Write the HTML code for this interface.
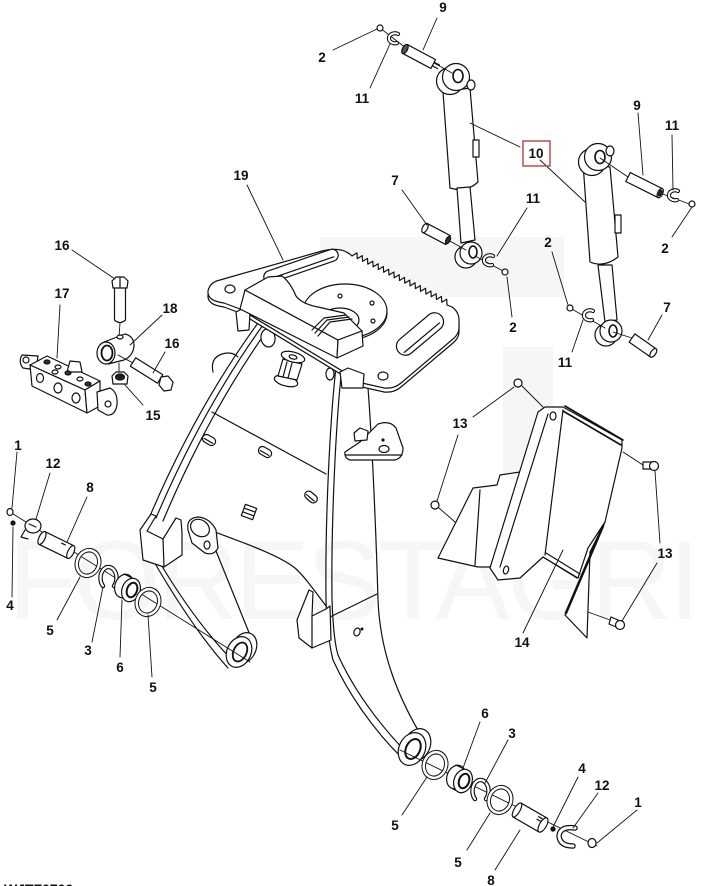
<!DOCTYPE html>
<html><head><meta charset="utf-8"><style>
html,body{margin:0;padding:0;background:#fff;}
svg{display:block;}
text{font-family:"Liberation Sans",Arial,sans-serif;}
.lb text{font-weight:bold;font-size:13.5px;fill:#111;text-anchor:middle;}
</style></head><body>
<svg width="712" height="886" viewBox="0 0 712 886" xmlns="http://www.w3.org/2000/svg" xmlns:xlink="http://www.w3.org/1999/xlink">
<defs>
<path id="plate" d="M 220,280 L 322,251 Q 342,246 352,256 L 356.9,252.9 357.3,258.7 362.2,255.6 362.6,261.4 367.5,258.4 367.8,264.2 372.8,261.1 373.1,266.9 378.1,263.8 378.4,269.6 383.3,266.5 383.7,272.3 388.6,269.2 389,275 393.9,272 394.2,277.8 399.2,274.7 399.5,280.5 404.5,277.4 404.8,283.2 409.7,280.1 410.1,285.9 415,282.8 415.4,288.6 420.3,285.6 420.6,291.4 425.6,288.3 425.9,294.1 430.9,291 431.2,296.8 436.1,293.7 436.5,299.5 441.4,296.4 441.8,302.2 446.7,299.2 447,305 L 452,307 Q 459,312 459,320 L 459,328 Q 459,334 453,339 L 401,383 Q 394,389 384,388 L 362,383 L 240,309 L 224,303 Q 207,301 208,291 Q 210,282 220,280 Z"/>
<path id="clip11" d="M 5,-4 A 6 5 0 1 0 4,5"/>
<path id="snap" d="M -5,8 A 8 11 0 1 1 6,8"/>
<ellipse id="washer" cx="0" cy="0" rx="11" ry="13" transform="rotate(20)"/>
</defs>

<g fill="#f6f6f6">
<rect x="320" y="237" width="244" height="60"/>
<rect x="503" y="347" width="50" height="158"/>
</g>
<text x="8" y="619" font-size="112" fill="#f6f6f6" textLength="692" lengthAdjust="spacing">FORESTAGRI</text>

<g stroke="#111" stroke-width="1.2" fill="none" stroke-linejoin="round" stroke-linecap="round">
<path d="M 368,388 C 372,440 376,530 378,600 C 380,650 396,695 425,742"/>
<path d="M 336,367 C 330,420 325,520 326,600 C 327,630 330,648 333,660"/>
<path d="M 342,367 C 336,420 331,520 332,600 C 333,628 335,645 338,655"/>
<path d="M 333,660 C 348,693 372,728 401,757"/>
<path d="M 338,655 C 352,686 374,718 404,750"/>
<path d="M 330,617 L 377,594"/>
<path d="M 258,323 Q 196,408 150,516"/>
<path d="M 263,325 Q 202,410 156,518"/>
<path d="M 268,329 Q 208,414 163,521"/>
<path d="M 212,412 L 326,474"/>
<path d="M 212,531 C 250,545 280,556 295,568 C 305,577 314,590 326,606"/>
<path d="M 153,560 C 175,598 200,637 228,668"/>
<path d="M 160,563 C 181,598 205,632 232,660"/>
<path d="M 214,546 L 252,640"/>
<path d="M 213,372 Q 210,358 222,354 Q 232,351 238,357"/>

<ellipse cx="244" cy="648" rx="12" ry="16" transform="rotate(25 244 648)" fill="#fff"/>
<ellipse cx="239" cy="652" rx="12" ry="16" transform="rotate(25 239 652)" fill="#fff"/>
<ellipse cx="240" cy="652" rx="6.5" ry="10" transform="rotate(25 240 652)" fill="#fff" stroke-width="1.8"/>

<path d="M 188,530 Q 186,518 198,517 Q 210,518 216,530 L 218,548 Q 214,556 205,553 L 192,543 Z" fill="#fff"/>
<ellipse cx="200" cy="528" rx="10" ry="8" transform="rotate(35 200 528)" fill="#fff"/>
<ellipse cx="207" cy="545" rx="3" ry="4" fill="#fff"/>

<path d="M 140,530 L 151,514 L 156,516 L 147,531 L 163,539 L 176,518 L 181,520 L 182,533 L 182,555 L 164,567 L 143,560 Z" fill="#fff"/>
<path d="M 163,539 L 164,567"/>
<path d="M 297,620 L 309,590 L 313,592 L 312,616 L 326,609 L 330,606 L 331,640 L 312,648 L 299,638 Z" fill="#fff"/>
<path d="M 312,616 L 312,648"/>
<path d="M 345,452 L 360,442 L 378,424 Q 390,420 396,428 L 403,448 Q 403,458 395,460 L 350,460 Q 344,458 345,452 Z" fill="#fff"/>
<path d="M 346,455 L 402,455"/>
<ellipse cx="384" cy="449" rx="5" ry="3.5" fill="#fff"/>
<circle cx="383" cy="440" r="1" fill="#111"/>
<path d="M 354,433 L 360,428 L 368,431 L 367,440 L 355,441 Z" fill="#fff"/>

<ellipse cx="417" cy="745" rx="13" ry="17" transform="rotate(25 417 745)" fill="#fff"/>
<ellipse cx="412" cy="749" rx="13" ry="17" transform="rotate(25 412 749)" fill="#fff"/>
<ellipse cx="413" cy="749" rx="7" ry="10.5" transform="rotate(25 413 749)" fill="#fff" stroke-width="2"/>

<ellipse cx="268" cy="338" rx="7" ry="9" transform="rotate(-10 268 338)" fill="#fff"/>
<ellipse cx="330" cy="374" rx="4" ry="6" fill="#fff"/>
<g transform="translate(209,440) rotate(30)"><rect x="-7" y="-4" width="14" height="8" rx="4" fill="#fff"/><path d="M -5,1 L 5,1"/></g>
<g transform="translate(265,452) rotate(30)"><rect x="-7" y="-4" width="14" height="8" rx="4" fill="#fff"/><path d="M -5,1 L 5,1"/></g>
<g transform="translate(311,497) rotate(40)"><rect x="-7" y="-4" width="14" height="8" rx="4" fill="#fff"/><path d="M -5,1 L 5,1"/></g>
<g transform="translate(249,512) rotate(20)"><rect x="-6" y="-6" width="12" height="12" fill="#fff"/><path d="M -5,-2 L 5,-2 M -5,2 L 5,2"/></g>
<ellipse cx="357" cy="632" rx="3" ry="4" transform="rotate(20 357 632)"/>
<circle cx="362" cy="629" r="0.9" fill="#111"/>

<ellipse cx="286" cy="381" rx="12" ry="5" transform="rotate(15 286 381)" fill="#fff"/>
<path d="M 283,359 L 302,364 L 297,380 L 278,376 Z" fill="#fff"/>
<path d="M 287,362 L 283,377 M 292,363 L 288,378"/>
<ellipse cx="293" cy="357" rx="12" ry="5" transform="rotate(15 293 357)" fill="#fff"/>
<ellipse cx="293" cy="357" rx="4" ry="2" transform="rotate(15 293 357)"/>

<use xlink:href="#plate" href="#plate" transform="translate(0,4)" fill="#fff"/>
<use xlink:href="#plate" href="#plate" fill="#fff"/>
<g transform="translate(301,266) rotate(-19)"><rect x="-39" y="-6" width="78" height="12" rx="6" fill="#fff"/><path d="M -35,2 L 34,2"/></g>
<g transform="translate(420,334) rotate(-40)"><rect x="-28" y="-9" width="56" height="18" rx="9" fill="#fff"/><path d="M -24,4 L 22,4"/></g>
<ellipse cx="230" cy="289" rx="5" ry="4" fill="#fff"/>
<ellipse cx="383" cy="376" rx="5" ry="4" fill="#fff"/>
<ellipse cx="345" cy="313" rx="42" ry="27" fill="#fff"/>
<ellipse cx="345" cy="311" rx="42" ry="27" fill="#fff"/>
<ellipse cx="340" cy="320" rx="19" ry="12" fill="#fff"/>
<circle cx="340" cy="296" r="2"/><circle cx="372" cy="303" r="2"/><circle cx="373" cy="321" r="2"/><circle cx="360" cy="332" r="2"/>
<path d="M 236,312 L 242,309 L 250,313 L 249,330 L 238,331 Z" fill="#fff"/>
<path d="M 340,372 L 348,368 L 364,374 L 363,388 L 342,388 Z" fill="#fff"/>
<path d="M 245,290 L 338,340 L 337,358 L 240,309 Z" fill="#fff"/>
<path d="M 245,290 L 268,277 L 282,276 Q 290,282 296,296 Q 302,304 318,307 L 344,313 L 362,331 L 338,340 Z" fill="#fff"/>
<path d="M 338,340 L 362,331 L 363,346 L 337,358 Z" fill="#fff"/>
<path d="M 312,330 L 324,318 L 346,315 M 315,333 L 327,320 L 349,317 M 318,336 L 330,322 L 352,319"/>

<path d="M 443,92 L 470,88 L 478,182 Q 466,193 450,188 Z" fill="#fff"/>
<rect x="473" y="140" width="6" height="17" fill="#fff"/>
<path d="M 457,188 L 470,187 L 475,240 L 461,243 Z" fill="#fff"/>
<circle cx="450" cy="81" r="13.5" fill="#fff"/>
<circle cx="456" cy="77" r="13.5" fill="#fff"/>
<ellipse cx="458" cy="76" rx="5" ry="6.5" fill="#fff" stroke-width="1.6"/>
<ellipse cx="471" cy="85" rx="4" ry="5" fill="#fff"/>
<circle cx="466" cy="257" r="11" fill="#fff"/>
<circle cx="471" cy="253" r="11" fill="#fff"/>
<ellipse cx="473" cy="252" rx="4" ry="6" fill="#fff" stroke-width="1.6"/>
<path d="M 583,163 L 610,167 L 618,257 Q 604,268 590,262 Z" fill="#fff"/>
<rect x="615" y="215" width="6" height="18" fill="#fff"/>
<path d="M 598,265 L 612,265 L 617,320 L 605,322 Z" fill="#fff"/>
<circle cx="592" cy="162" r="13.5" fill="#fff"/>
<circle cx="598" cy="157" r="13.5" fill="#fff"/>
<ellipse cx="600" cy="157" rx="5" ry="6.5" fill="#fff" stroke-width="1.6"/>
<ellipse cx="610" cy="151" rx="4" ry="5" fill="#fff"/>
<circle cx="606" cy="335" r="11" fill="#fff"/>
<circle cx="611" cy="331" r="11" fill="#fff"/>
<ellipse cx="613" cy="331" rx="4" ry="6" fill="#fff" stroke-width="1.6"/>

<path stroke-width="0.9" d="M 380,28 L 406,48 M 434,63 L 452,73 M 448,240 L 466,250 M 475,256 L 505,272 M 600,158 L 628,177 M 660,193 L 692,205 M 570,308 L 605,328 M 613,332 L 632,338"/>
<g transform="translate(405,49) rotate(28)"><rect x="0" y="-5" width="32" height="10" fill="#fff"/><ellipse cx="0" cy="0" rx="2.5" ry="5" fill="#555"/><path d="M 32,-2 L 38,-2 M 32,2 L 38,2"/></g>
<g transform="translate(425,228) rotate(27.6)"><rect x="0" y="-5" width="26" height="10" fill="#fff"/><ellipse cx="0" cy="0" rx="2.5" ry="5" fill="#fff"/><ellipse cx="26" cy="0" rx="2" ry="4" fill="#333"/></g>
<g transform="translate(628,177) rotate(26.6)"><rect x="0" y="-5" width="36" height="10" fill="#fff"/><ellipse cx="36" cy="0" rx="2.5" ry="5" fill="#fff"/><ellipse cx="36" cy="0" rx="1.2" ry="3" fill="#333"/></g>
<g transform="translate(632,338) rotate(35)"><rect x="0" y="-5" width="26" height="10" fill="#fff"/><ellipse cx="26" cy="0" rx="2.5" ry="5" fill="#fff"/></g>

<g transform="translate(393,38)"><use href="#clip11" xlink:href="#clip11" stroke-width="4.2"/><use href="#clip11" xlink:href="#clip11" stroke-width="2" stroke="#fff"/></g>
<g transform="translate(488,260)"><use href="#clip11" xlink:href="#clip11" stroke-width="4.2"/><use href="#clip11" xlink:href="#clip11" stroke-width="2" stroke="#fff"/></g>
<g transform="translate(673,195)"><use href="#clip11" xlink:href="#clip11" stroke-width="4.2"/><use href="#clip11" xlink:href="#clip11" stroke-width="2" stroke="#fff"/></g>
<g transform="translate(588,315)"><use href="#clip11" xlink:href="#clip11" stroke-width="4.2"/><use href="#clip11" xlink:href="#clip11" stroke-width="2" stroke="#fff"/></g>
<g fill="#fff"><circle cx="380" cy="28" r="3"/><circle cx="505" cy="272" r="3"/><circle cx="692" cy="204" r="3"/><circle cx="570" cy="308" r="3"/></g>

<path d="M 438,558 L 473,488 L 497,485 L 500,475 L 520,472 L 530,490 L 490,567 L 478,567 Z" fill="#fff"/>
<path d="M 480,490 L 475,565"/>
<path d="M 538,412 L 545,407 L 563,407 L 622,440 L 622,448 L 605,522 L 588,548 L 578,578 L 543,557 L 520,578 L 498,580 L 490,568 Z" fill="#fff"/>
<path d="M 563,410 L 545,555"/>
<path d="M 548,414 L 500,567"/>
<path d="M 565,406 L 623,440 M 563,411 L 621,445" stroke-width="1.6"/>
<path d="M 543,557 L 577,578 M 546,553 L 580,574"/>
<path d="M 605,522 L 565,615 L 587,638 L 590,552 Z" fill="#fff"/>
<path d="M 603,526 L 566,613" stroke-width="2.5"/>
<ellipse cx="553" cy="416" rx="3" ry="4" fill="#fff"/>
<ellipse cx="506" cy="570" rx="2.5" ry="4" transform="rotate(15 506 570)"/>
<circle cx="518" cy="383" r="4" fill="#fff"/>
<circle cx="435" cy="505" r="4" fill="#fff"/>
<path d="M 643,462 L 651,462 L 651,469 L 643,469 Z" fill="#fff"/>
<circle cx="654" cy="466" r="4.5" fill="#fff"/>
<path d="M 611,617 L 618,620 L 616,627 L 609,624 Z" fill="#fff"/>
<circle cx="620" cy="625" r="4.5" fill="#fff"/>

<path d="M 22,355 Q 18,362 23,368 L 36,370 L 38,356 Z" fill="#fff"/>
<circle cx="26" cy="360" r="3" fill="#fff"/>
<path d="M 30,365 L 47,356 L 100,381 L 85,390 Z" fill="#fff"/>
<path d="M 30,365 L 85,390 L 87,413 L 32,386 Z" fill="#fff"/>
<path d="M 85,390 L 100,381 L 100,406 L 87,413 Z" fill="#fff"/>
<path d="M 67,372 L 70,361 L 80,362 L 82,372 Z" fill="#fff"/>
<path d="M 97,392 L 110,388 Q 118,392 117,405 Q 115,416 107,415 L 98,410 Z" fill="#fff"/>
<circle cx="108" cy="404" r="3" fill="#fff"/>
<ellipse cx="40" cy="378" rx="3.5" ry="4.5" fill="#fff"/>
<ellipse cx="58" cy="388" rx="4" ry="5" fill="#fff"/>
<ellipse cx="76" cy="398" rx="4" ry="5" fill="#fff"/>
<ellipse cx="47" cy="362" rx="3" ry="2" fill="#333"/>
<ellipse cx="58" cy="367" rx="3" ry="2"/>
<ellipse cx="68" cy="373" rx="3" ry="2" fill="#333"/>
<ellipse cx="80" cy="379" rx="3" ry="2"/>
<ellipse cx="55" cy="372" rx="3" ry="2"/>
<ellipse cx="88" cy="384" rx="3" ry="2" fill="#333"/>
<path d="M 114.5,288 L 114.5,320 Q 120,325 125.5,320 L 125.5,288" fill="#fff"/>
<path d="M 112,281 L 116,277 L 124,277 L 128,281 L 127,288 L 113,288 Z" fill="#fff"/>
<path d="M 120,277 L 120,288"/>
<path d="M 120,323 L 119,337" stroke-width="0.9"/>
<path d="M 104,342 L 125,334 Q 134,336 134,346 Q 133,356 124,360 L 108,364" fill="#fff"/>
<ellipse cx="106" cy="353" rx="9" ry="11" fill="#fff"/>
<ellipse cx="107" cy="353" rx="5.5" ry="7.5" fill="#fff" stroke-width="1.8"/>
<ellipse cx="120" cy="337" rx="3" ry="2" fill="#fff"/>
<path d="M 118,355 L 133,363 M 119,363 L 119,373" stroke-width="0.9"/>
<g transform="translate(133,362) rotate(32)"><rect x="0" y="-5" width="32" height="10" fill="#fff"/></g>
<path d="M 161,377 L 168,376 L 173,382 L 171,390 L 164,391 L 159,385 Z" fill="#fff"/>
<path d="M 112,376 L 116,372 L 124,372 L 128,376 L 127,384 L 113,384 Z" fill="#fff"/>
<ellipse cx="120" cy="377" rx="4.5" ry="3" fill="#222"/>

<path d="M 10,512 L 250,662" stroke-width="0.9"/>
<ellipse cx="10" cy="512" rx="3" ry="3.5" fill="#fff"/>
<circle cx="13" cy="523" r="2" fill="#111"/>
<ellipse cx="33" cy="526" rx="8" ry="7" fill="#fff"/>
<path d="M 29,524 L 36,527 M 25,530 L 21,537 L 28,539"/>
<g transform="translate(42,538) rotate(26)"><rect x="0" y="-7" width="32" height="14" fill="#fff"/><ellipse cx="0" cy="0" rx="3" ry="7" fill="#fff"/><ellipse cx="32" cy="0" rx="3" ry="7" fill="#fff"/><path d="M 20,-4 L 24,-4"/></g>
<g transform="translate(88,563)"><use href="#washer" xlink:href="#washer" stroke-width="4.5"/><use href="#washer" xlink:href="#washer" stroke-width="2.5" stroke="#fff"/></g>
<g transform="translate(108,578)"><use href="#snap" xlink:href="#snap" stroke-width="4.5"/><use href="#snap" xlink:href="#snap" stroke-width="2.2" stroke="#fff"/></g>
<ellipse cx="124" cy="586" rx="9" ry="12" transform="rotate(20 124 586)" fill="#fff"/>
<path d="M 124,574 L 132,578 M 122,598 L 130,601"/>
<ellipse cx="131" cy="590" rx="9" ry="12" transform="rotate(20 131 590)" fill="#fff"/>
<ellipse cx="132" cy="590" rx="5" ry="7.5" transform="rotate(20 132 590)" fill="#fff" stroke-width="2"/>
<g transform="translate(148,602)"><use href="#washer" xlink:href="#washer" stroke-width="4.5"/><use href="#washer" xlink:href="#washer" stroke-width="2.5" stroke="#fff"/></g>

<path d="M 400,750 L 597,846" stroke-width="0.9"/>
<g transform="translate(435,765)"><use href="#washer" xlink:href="#washer" stroke-width="4.5"/><use href="#washer" xlink:href="#washer" stroke-width="2.5" stroke="#fff"/></g>
<ellipse cx="456" cy="777" rx="9" ry="12" transform="rotate(20 456 777)" fill="#fff"/>
<path d="M 456,765 L 464,769 M 453,789 L 461,793"/>
<ellipse cx="463" cy="781" rx="9" ry="12" transform="rotate(20 463 781)" fill="#fff"/>
<ellipse cx="464" cy="781" rx="5" ry="7.5" transform="rotate(20 464 781)" fill="#fff" stroke-width="2"/>
<g transform="translate(480,791)"><use href="#snap" xlink:href="#snap" stroke-width="4.5"/><use href="#snap" xlink:href="#snap" stroke-width="2.2" stroke="#fff"/></g>
<g transform="translate(500,800)"><use href="#washer" xlink:href="#washer" stroke-width="4.5"/><use href="#washer" xlink:href="#washer" stroke-width="2.5" stroke="#fff"/></g>
<g transform="translate(517,810) rotate(30)"><rect x="0" y="-8" width="30" height="16" fill="#fff"/><ellipse cx="0" cy="0" rx="3" ry="8" fill="#fff"/><ellipse cx="30" cy="0" rx="3.5" ry="8" fill="#fff"/><path d="M 22,-5 L 26,-5 M 22,-2 L 26,-2"/></g>
<circle cx="553" cy="829" r="2" fill="#111"/>
<path d="M 575,828 Q 560,826 559,836 Q 560,846 573,846" stroke-width="5.5"/>
<path d="M 575,828 Q 560,826 559,836 Q 560,846 573,846" stroke-width="3" stroke="#fff"/>
<ellipse cx="592" cy="843" rx="4" ry="4.5" fill="#fff"/>

<path stroke-width="0.9" d="M 437,18 L 423,50 M 333,50 L 377,29 M 370,88 L 390,44 M 470,123 L 520,147 M 540,160 L 585,202 M 402,190 L 427,225 M 527,208 L 497,256 M 507,277 L 512,317 M 638,113 L 643,175 M 672,135 L 673,190 M 672,237 L 692,207 M 662,315 L 648,340 M 552,252 L 568,305 M 572,352 L 583,320 M 247,185 L 283,260 M 72,250 L 115,279 M 60,305 L 57,358 M 162,315 L 130,345 M 165,352 L 153,373 M 143,405 L 125,385 M 17,452 L 12,508 M 50,473 L 36,519 M 87,497 L 67,542 M 13,527 L 12,597 M 57,620 L 80,577 M 92,642 L 103,587 M 120,657 L 122,600 M 152,677 L 148,615 M 473,417 L 514,387 M 522,386 L 543,407 M 458,435 L 437,501 M 439,508 L 455,522 M 660,543 L 655,471 M 623,452 L 643,465 M 657,563 L 622,621 M 588,612 L 610,620 M 523,633 L 563,550 M 480,722 L 463,768 M 508,740 L 485,783 M 578,777 L 553,827 M 598,793 L 573,828 M 637,810 L 597,843 M 402,815 L 427,777 M 467,850 L 490,813 M 495,870 L 520,830"/>
</g>

<rect x="523" y="141" width="27" height="25" fill="none" stroke="#b5453f" stroke-width="1.4"/>

<g class="lb">
<text x="443" y="12">9</text><text x="322" y="62">2</text><text x="362" y="103">11</text>
<text x="536" y="158">10</text><text x="637" y="110">9</text><text x="672" y="130">11</text>
<text x="241" y="180">19</text><text x="395" y="185">7</text><text x="533" y="203">11</text>
<text x="548" y="247">2</text><text x="665" y="253">2</text><text x="62" y="250">16</text>
<text x="62" y="298">17</text><text x="170" y="313">18</text><text x="172" y="348">16</text>
<text x="153" y="420">15</text><text x="513" y="332">2</text><text x="667" y="312">7</text>
<text x="565" y="367">11</text><text x="460" y="428">13</text><text x="18" y="450">1</text>
<text x="53" y="468">12</text><text x="90" y="492">8</text><text x="665" y="558">13</text>
<text x="522" y="647">14</text><text x="10" y="610">4</text><text x="50" y="635">5</text>
<text x="88" y="655">3</text><text x="120" y="672">6</text><text x="153" y="692">5</text>
<text x="485" y="718">6</text><text x="512" y="738">3</text><text x="582" y="773">4</text>
<text x="602" y="790">12</text><text x="638" y="807">1</text><text x="395" y="830">5</text>
<text x="458" y="867">5</text><text x="491" y="885">8</text>
</g>
<text x="4" y="894" font-size="14" font-weight="bold" fill="#111">WJTF0700</text>
</svg>
</body></html>
